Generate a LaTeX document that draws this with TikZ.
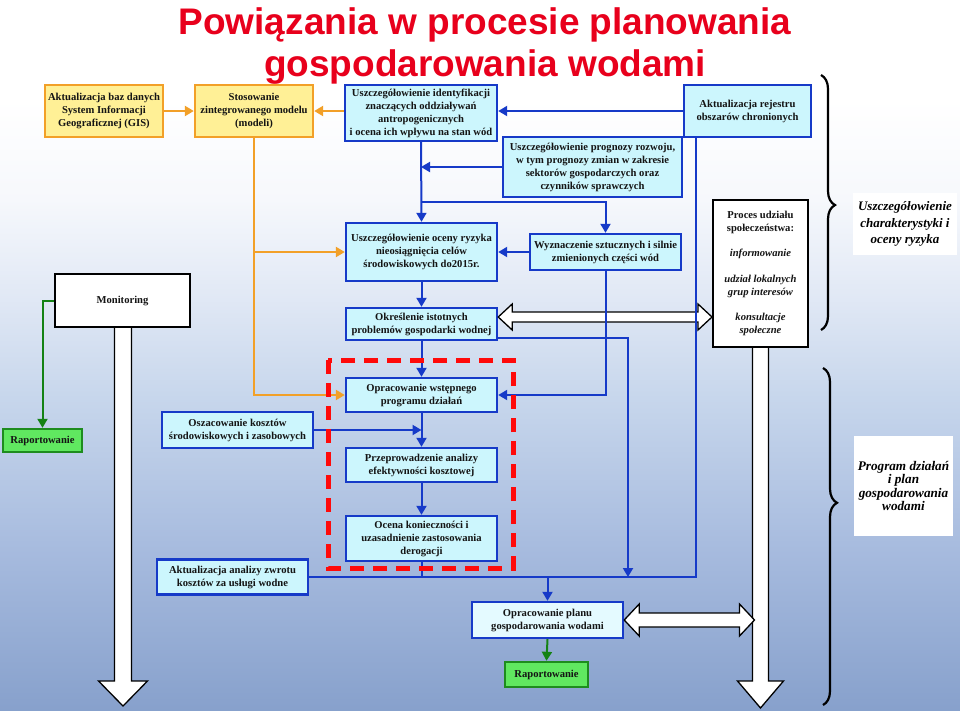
\documentclass[tikz,border=0pt]{standalone}
\usepackage{fontspec}
\setmainfont{Liberation Serif}
\newfontfamily\titlefont{Liberation Sans}
\usetikzlibrary{arrows.meta,calc,decorations.pathreplacing}
\definecolor{bfill}{RGB}{204,246,253}
\definecolor{pfill}{RGB}{228,250,255}
\definecolor{bline}{RGB}{22,58,200}
\definecolor{yfill}{RGB}{255,240,150}
\definecolor{oline}{RGB}{242,160,40}
\definecolor{gfill}{RGB}{96,232,96}
\definecolor{gline}{RGB}{30,140,30}
\definecolor{gconn}{RGB}{20,130,20}
\definecolor{tred}{RGB}{232,0,28}
\definecolor{dred}{RGB}{255,10,10}
\pgfdeclareverticalshading{bgshade}{100bp}{rgb(0bp)=(0.53,0.63,0.80); rgb(25bp)=(0.53,0.63,0.80); rgb(36bp)=(0.65,0.73,0.87); rgb(47bp)=(0.78,0.84,0.925); rgb(54bp)=(0.88,0.91,0.96); rgb(61bp)=(0.965,0.973,0.988); rgb(68bp)=(1,1,1); rgb(100bp)=(1,1,1)}
\begin{document}
\begin{tikzpicture}[x=1pt,y=-1pt,
  box/.style={draw, line width=2.4pt, inner sep=1pt, align=center, text=black!92, font=\fontsize{10.6}{13}\selectfont\bfseries},
  bluebox/.style={box, draw=bline, fill=bfill},
  yelbox/.style={box, draw=oline, fill=yfill},
  whitebox/.style={box, draw=black, fill=white, line width=2pt},
  greenbox/.style={box, draw=gline, fill=gfill},
  tip/.style={-{Triangle[length=9pt,width=10pt]}},
  bconn/.style={draw=bline, line width=2pt, tip},
  bplain/.style={draw=bline, line width=2pt},
  oconn/.style={draw=oline, line width=2.4pt, tip},
  gconnst/.style={draw=gconn, line width=2pt, tip},
  blockarr/.style={draw=black, fill=white, line width=1.3pt, line join=miter},
  sidelabel/.style={fill=white, inner sep=0pt, align=center, font=\fontsize{13}{16.5}\selectfont\bfseries\itshape},
  bracest/.style={draw=black, line width=2.2pt, decorate},
  titlest/.style={inner sep=0pt, anchor=base, text=tred, font=\titlefont\bfseries\fontsize{37}{40}\selectfont}
]
\useasboundingbox (0,0) rectangle (960,710);
\shade[shading=bgshade] (0,0) rectangle (960,710);

% title
\node[titlest] (t1) at (485,34) {Powiązania w procesie planowania};
\node[titlest] (t2) at (485,76) {gospodarowania wodami};

% top row
\node[yelbox, minimum width=118, minimum height=52] (gis) at (104,111) {Aktualizacja baz danych\\System Informacji\\Geograficznej  (GIS)};
\node[yelbox, minimum width=118, minimum height=52] (model) at (254,111) {Stosowanie\\zintegrowanego modelu\\(modeli)};
\node[bluebox, minimum width=152, minimum height=56] (ident) at (421,113) {Uszczegółowienie identyfikacji\\znaczących oddziaływań\\antropogenicznych\\i ocena ich wpływu na stan wód};
\node[bluebox, minimum width=179, minimum height=60] (progn) at (592.5,167) {Uszczegółowienie prognozy rozwoju,\\w tym prognozy zmian w zakresie\\sektorów gospodarczych oraz\\czynników sprawczych};
\node[bluebox, minimum width=127, minimum height=52] (rejestr) at (747.5,111) {Aktualizacja rejestru\\obszarów chronionych};

% middle
\node[bluebox, minimum width=151, minimum height=58] (ryzyko) at (421.5,252) {Uszczegółowienie oceny ryzyka\\nieosiągnięcia celów\\środowiskowych do2015r.};
\node[bluebox, minimum width=151, minimum height=36] (wyzn) at (605.5,252) {Wyznaczenie sztucznych i silnie\\zmienionych części wód};
\node[bluebox, minimum width=151, minimum height=32] (okresl) at (421.5,324) {Określenie istotnych\\problemów gospodarki wodnej};
\node[whitebox, minimum width=95, minimum height=147] (proces) at (760.5,273.5) {Proces udziału\\społeczeństwa:\\[12.5pt]{\itshape informowanie}\\[12.5pt]{\itshape udział lokalnych}\\{\itshape grup interesów}\\[12.5pt]{\itshape konsultacje}\\{\itshape społeczne}};
\node[whitebox, minimum width=135, minimum height=53] (monit) at (122.5,300.5) {Monitoring};
\node[greenbox, minimum width=79, minimum height=23] (rap1) at (42.5,440.5) {Raportowanie};

% lower
\node[bluebox, minimum width=151, minimum height=36] (oszac) at (237.5,430) {Oszacowanie kosztów\\środowiskowych i zasobowych};
\node[bluebox, minimum width=151, minimum height=35] (analiza) at (232.5,577) {Aktualizacja analizy zwrotu\\kosztów za usługi wodne};
\node[bluebox, minimum width=151, minimum height=34] (wstepny) at (421.5,395) {Opracowanie wstępnego\\programu działań};
\node[bluebox, minimum width=151, minimum height=34] (przepr) at (421.5,465) {Przeprowadzenie analizy\\efektywności kosztowej};
\node[bluebox, minimum width=151, minimum height=45] (ocena) at (421.5,538.5) {Ocena konieczności i\\uzasadnienie zastosowania\\derogacji};
\node[bluebox, fill=pfill, minimum width=151, minimum height=36] (plan) at (547.5,620) {Opracowanie planu\\gospodarowania wodami};
\node[greenbox, minimum width=83, minimum height=25] (rap2) at (546.5,674.5) {Raportowanie};

% side labels
\node[sidelabel, minimum width=104, minimum height=62] (lab1) at (905,224) {Uszczegółowienie\\charakterystyki i\\oceny ryzyka};
\node[sidelabel, font=\fontsize{13.2}{13.5}\selectfont\bfseries\itshape, minimum width=99, minimum height=100] (lab2) at (903.5,486) {Program działań\\i plan\\gospodarowania\\wodami};

% block arrows
\draw[blockarr] ($(monit.south)+(-8,0)$) -- ++(0,353) -- ++(-16,0) -- ++(24.5,25) -- ++(24.5,-25) -- ++(-16,0) -- ++(0,-353);
\draw[blockarr] ($(proces.south)+(-8,0)$) -- ++(0,333) -- ++(-15,0) -- ++(23,27) -- ++(23,-27) -- ++(-15,0) -- ++(0,-333);
\coordinate (da1) at ($(okresl.east)+(0,-7)$);
\coordinate (da2) at (da1 -| proces.west);
\draw[blockarr] (da1) -- ++(14,-13) -- ++(0,8) -- ($(da2)+(-14,-5)$) -- ++(0,-8) -- (da2) -- ++(-14,13) -- ++(0,-8) -- ($(da1)+(14,5)$) -- ++(0,8) -- cycle;
\coordinate (da3) at (plan.east);
\coordinate (da4) at ($(plan.east -| proces.south)+(-6,0)$);
\draw[blockarr] (da3) -- ++(15,-16) -- ++(0,9) -- ($(da4)+(-15,-7)$) -- ++(0,-9) -- (da4) -- ++(-15,16) -- ++(0,-9) -- ($(da3)+(15,7)$) -- ++(0,9) -- cycle;

% orange connectors
\draw[oconn] (gis) -- (model);
\draw[oconn] (ident.west |- model) -- (model.east);
\draw[oconn] (model.south) |- (wstepny.west);
\draw[oconn] (model.south |- ryzyko.west) -- (ryzyko.west);

% blue connectors
\draw[bconn] (rejestr.west) -- (rejestr.west -| ident.east);
\draw[bconn] (ident.south) -- (ryzyko.north);
\coordinate (j1) at (421,202);
\draw[bconn] (j1) -| (wyzn.north);
\draw[bconn] (progn.west) -- (progn.west -| ident.south);
\draw[bconn] (wyzn.west) -- (ryzyko.east);
\draw[bconn] (ryzyko.south) -- (okresl.north);
\draw[bconn] (okresl.south) -- (wstepny.north);
\draw[bconn] (wstepny.south) -- (przepr.north);
\draw[bconn] (przepr.south) -- (ocena.north);
\draw[bconn] (oszac.east) -- (oszac.east -| wstepny.south);
\draw[bconn] (wyzn.south) |- (wstepny.east);
\coordinate (k1) at ($(okresl.south east)+(0,-3)$);
\coordinate (k2) at (628,577);
\draw[bconn] (k1) -| (k2);
\coordinate (rj) at ($(rejestr.south west)+(13,0)$);
\draw[bplain] (analiza.east) -- (rj |- analiza.east) -- (rj);
\draw[bplain] (ocena.south) -- (ocena.south |- analiza.east);
\draw[bconn] (plan.north |- analiza.east) -- (plan.north);

% green connectors
\draw[gconnst] (monit.west) -| (rap1.north);
\draw[gconnst] (plan.south) -- (rap2.north);

% red dashed frame
\draw[dred, line width=5pt, dash pattern=on 14pt off 9pt] (328,360) rectangle (513,568);

% braces
\draw[bracest, decoration={brace, amplitude=14pt, aspect=0.51}] (821,75) -- (821,330);
\draw[bracest, decoration={brace, amplitude=14pt, aspect=0.40}] (823,368) -- (823,705);
\end{tikzpicture}
\end{document}
